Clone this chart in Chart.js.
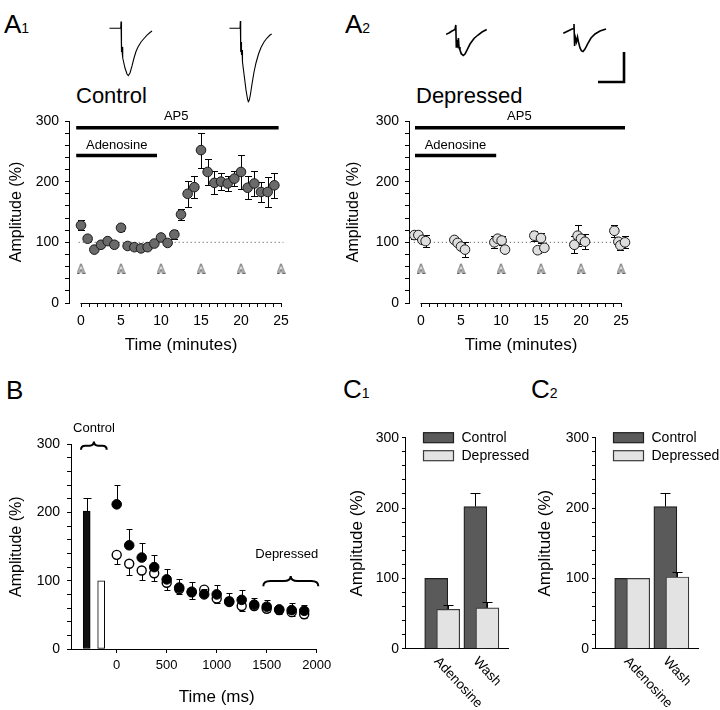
<!DOCTYPE html>
<html><head><meta charset="utf-8">
<script src="https://cdn.jsdelivr.net/npm/chart.js@4.4.0/dist/chart.umd.min.js"></script>
<style>
body{margin:0;background:#fff;width:720px;height:710px;position:relative;overflow:hidden;font-family:"Liberation Sans",Arial,Helvetica,sans-serif;}
canvas{position:absolute;}
.lbl{position:absolute;color:#000;white-space:nowrap;line-height:1;}
</style></head><body>
<div class="lbl" style="left:4px;top:11px;font-size:26px">A<span style="font-size:14px">1</span></div>
<div class="lbl" style="left:345px;top:11px;font-size:26px">A<span style="font-size:14px">2</span></div>
<div class="lbl" style="left:6px;top:377px;font-size:26px">B</div>
<div class="lbl" style="left:343px;top:376px;font-size:26px">C<span style="font-size:14px">1</span></div>
<div class="lbl" style="left:531px;top:376px;font-size:26px">C<span style="font-size:14px">2</span></div>
<div class="lbl" style="left:76px;top:85px;font-size:22px">Control</div>
<div class="lbl" style="left:416px;top:85px;font-size:22px">Depressed</div>

<canvas id="t1" width="50" height="90" style="left:109px;top:16px"></canvas>
<canvas id="t2" width="50" height="90" style="left:229px;top:16px"></canvas>
<canvas id="t3" width="50" height="90" style="left:446px;top:16px"></canvas>
<canvas id="t4" width="50" height="90" style="left:563px;top:16px"></canvas>
<canvas id="sb" width="50" height="90" style="left:590px;top:16px"></canvas>
<canvas id="a1" width="360" height="260" style="left:0px;top:100px"></canvas>
<canvas id="a2" width="360" height="260" style="left:337px;top:100px"></canvas>
<canvas id="b" width="360" height="310" style="left:0px;top:400px"></canvas>
<canvas id="c1" width="200" height="310" style="left:340px;top:400px"></canvas>
<canvas id="c2" width="192" height="310" style="left:528px;top:400px"></canvas>

<script>
// ================= DATA =================
// Panel A1 (Control): time (min), amplitude (%), SEM
const a1Time = [0, 0.83, 1.67, 2.5, 3.33, 4.17, 5, 5.83, 6.67, 7.5, 8.33, 9.17, 10, 10.83, 11.67, 12.5, 13.33, 14.17, 15, 15.83, 16.67, 17.5, 18.33, 19.17, 20, 20.83, 21.67, 22.5, 23.33, 24.17];
const a1Amp  = [128, 106, 88, 96, 102, 96, 124, 94, 92, 90, 92, 98, 108, 99, 113, 146, 180, 191, 252, 216, 198, 200, 197, 205, 216, 190, 197, 183, 183, 194];
const a1Sem  = [8, 3, 3, 3, 3, 3, 6, 3, 3, 3, 3, 3, 4, 3, 7, 9, 21, 18, 29, 22, 19, 14, 12, 12, 28, 19, 20, 17, 25, 21];
// Panel A2 (Depressed)
const a2Time = [-0.83, -0.33, 0.17, 0.58, 4.17, 4.58, 5.0, 5.5, 9.17, 9.58, 10.08, 10.5, 14.17, 14.58, 15.0, 15.42, 19.17, 19.58, 20.0, 20.5, 24.17, 24.67, 24.92, 25.5];
const a2Amp  = [112, 112, 104, 102, 104, 99, 93, 88, 100, 106, 103, 88, 111, 87, 107, 91, 96, 111, 106, 101, 119, 101, 95, 100];
const a2Sem  = [6, 5, 5, 10, 3, 3, 5, 12, 10, 6, 8, 4, 8, 4, 8, 5, 14, 17, 8, 12, 10, 6, 8, 10];
// Stimulus markers (min), axis ticks (min)
const aStimTimes = [0, 5, 10, 15, 20, 25];
const aXTicks = [0,1,2,3,4,5,6,7,8,9,10,11,12,13,14,15,16,17,18,19,20,21,22,23,24,25];
// Drug application periods (min)
const a1Ap5Period = [-0.6, 24.7];
const a1AdenosinePeriod = [-0.6, 9.5];
const a2Ap5Period = [-0.75, 25.5];
const a2AdenosinePeriod = [-0.75, 9.4];

// Panel B: paired-pulse time course (ms)
const bTime = [0, 125, 250, 375, 500, 625, 750, 875, 1000, 1125, 1250, 1375, 1500, 1625, 1750, 1875];
const bControl    = [212, 152, 134, 120, 102, 90, 84, 80, 80, 69, 72, 65, 62, 58, 57, 56];
const bControlSem = [28, 24, 22, 18, 15, 13, 14, 8, 14, 13, 15, 10, 10, 5, 10, 9];
const bDepressed    = [138, 125, 115, 111, 97, 88, 83, 87, 74, 70, 63, 63, 59, 57, 54, 51];
const bDepressedSem = [14, 16, 14, 12, 10, 8, 9, 6, 7, 6, 8, 5, 5, 5, 5, 5];
const bBarTime = [-300, -155];
const bBarAmp  = [202, 100];
const bBarSem  = [20, 0];
const bXTicks = [0, 500, 1000, 1500, 2000];

// Panels C1 / C2
const cCategories = ['Adenosine', 'Wash'];
const c1Control = [100, 202], c1ControlSem = [0, 19];
const c1Depressed = [56, 58], c1DepressedSem = [6, 9];
const c2Control = [100, 202], c2ControlSem = [0, 20];
const c2Depressed = [100, 102], c2DepressedSem = [0, 7];

// Example traces: [ms, pA]
const traceCtrlAdenosine = [[0.19,-0.5],[4.5,-0.5],[4.62,10.8],[4.73,-40],[4.88,-26.7],[5.04,-40],[5.19,-31.7],[5.38,-50],[6.15,-66.7],[6.92,-76.7],[7.42,-79.2],[8.08,-75],[8.85,-63.3],[9.62,-50],[10.38,-39.2],[11.15,-31.7],[12.31,-23.3],[13.46,-17.5],[14.62,-11.7],[15.77,-7.5],[16.54,-5]];
const traceCtrlWash = [[0.19,-0.5],[4.23,-0.5],[4.35,11.7],[4.5,-40],[4.65,-23.3],[4.81,-45],[5,-36.7],[5.19,-56.7],[5.77,-76.7],[6.54,-103.3],[7.12,-118.3],[7.42,-122.8],[7.81,-120],[8.27,-110],[8.85,-93.3],[9.62,-73.3],[10.38,-58.3],[11.35,-43.3],[12.31,-32.5],[13.46,-23.3],[14.62,-16.7],[15.77,-11.7],[16.42,-10]];
const traceDepAdenosine = [[0,-10.5],[1.15,-8.3],[2.31,-5],[3.46,-2.5],[3.77,5],[3.96,-31.7],[4.23,-20],[4.54,-26.7],[4.77,-16.7],[5,-31.7],[5.38,-36.7],[5.96,-43.3],[6.65,-45.8],[7.31,-43.3],[8.08,-36.7],[9.23,-26.7],[10.77,-17.5],[12.31,-11.7],[13.85,-6.7],[15.65,-2.5]];
const traceDepWash = [[0.12,-8.8],[1.54,-5.8],[3.08,-2.5],[4.04,-0.8],[4.23,6.7],[4.46,-30],[4.81,-16.7],[5.19,-23.3],[5.58,-15],[5.96,-23.3],[6.54,-33.3],[7.12,-38.3],[7.69,-39.2],[8.46,-35],[9.42,-26.7],[10.77,-16.7],[12.31,-10],[14.23,-5],[16.54,-1.7]];
const scaleBarMs = 10, scaleBarPA = 50;

// ================= SETUP =================
const FONT = '"Liberation Sans", Arial, Helvetica, sans-serif';
Chart.defaults.font.family = FONT;
Chart.defaults.color = '#000';
Chart.defaults.animation = false;
Chart.defaults.responsive = false;
Chart.defaults.devicePixelRatio = 1;
Chart.defaults.events = [];
Chart.defaults.plugins.legend.display = false;
Chart.defaults.plugins.tooltip.enabled = false;

const errorBarPlugin = {
  id: 'errorBars',
  beforeDatasetDraw(chart, args) {
    const ds = chart.data.datasets[args.index];
    if (!ds.errorBars) return;
    const meta = args.meta;
    const ys = chart.scales[meta.yAxisID];
    const ctx = chart.ctx;
    ctx.save();
    ctx.strokeStyle = ds.errorColor || '#000';
    ctx.lineWidth = ds.errorWidth || 1;
    const cap = ds.errorCap || 3;
    const dir = ds.errorDir || 'both';
    meta.data.forEach((el, i) => {
      const e = ds.errorBars[i];
      if (!e) return;
      const v = ds.data[i].y;
      const x = Math.round(el.x) + 0.5;
      const y0 = ys.getPixelForValue(v);
      const yT = Math.round(ys.getPixelForValue(v + e)) + 0.5;
      const yB = Math.round(ys.getPixelForValue(v - e)) + 0.5;
      ctx.beginPath();
      if (dir !== 'down') { ctx.moveTo(x, y0); ctx.lineTo(x, yT); ctx.moveTo(x - cap, yT); ctx.lineTo(x + cap, yT); }
      if (dir !== 'up') { ctx.moveTo(x, y0); ctx.lineTo(x, yB); ctx.moveTo(x - cap, yB); ctx.lineTo(x + cap, yB); }
      ctx.stroke();
    });
    ctx.restore();
  }
};
Chart.register(errorBarPlugin);

// stimulus marker glyph (open arrowhead)
function makeArrowGlyph() {
  const c = document.createElement('canvas');
  c.width = 9; c.height = 11;
  const g = c.getContext('2d');
  g.strokeStyle = '#3a3a3a'; g.lineWidth = 0.9;
  g.beginPath();
  g.moveTo(0.8, 10.5); g.lineTo(4.5, 0.8); g.lineTo(8.2, 10.5);
  g.moveTo(2.9, 10.5); g.lineTo(4.5, 6.2); g.lineTo(6.1, 10.5);
  g.moveTo(0.8, 10.5); g.lineTo(2.9, 10.5);
  g.moveTo(6.1, 10.5); g.lineTo(8.2, 10.5);
  g.stroke();
  return c;
}
const arrowGlyph = makeArrowGlyph();

function yAxisCommon(width, titleSize, tickLen, tickPad) {
  return {
    type: 'linear', min: 0, max: 300,
    ticks: { stepSize: 20, autoSkip: false, padding: tickPad, font: { size: 14 }, color: '#000',
             callback: v => (v % 100 === 0 ? String(v) : '') },
    grid: { drawOnChartArea: false, drawTicks: true, tickLength: tickLen, color: '#000', lineWidth: 1 },
    border: { display: true, color: '#000', width: 1 },
    title: { display: true, text: 'Amplitude (%)', font: { size: titleSize }, color: '#000', padding: { top: 7, bottom: 0 } },
    afterFit: s => { s.width = width; }
  };
}

// ================= PANEL A =================
function makeA(id, o) {
  const deco = {
    id: 'decoA',
    afterDatasetsDraw(chart) {
      const { ctx, scales: { x, y } } = chart;
      ctx.save();
      ctx.strokeStyle = '#000'; ctx.lineWidth = 1;
      const yy = Math.round(y.getPixelForValue(0)) + 0.5;
      ctx.beginPath();
      ctx.moveTo(x.getPixelForValue(aXTicks[0]) - 0.5, yy);
      ctx.lineTo(x.getPixelForValue(aXTicks[aXTicks.length - 1]) + 0.5, yy);
      ctx.stroke();
      ctx.fillStyle = '#000'; ctx.textAlign = 'center'; ctx.textBaseline = 'middle';
      ctx.font = '13px ' + FONT;
      ctx.fillText('AP5', x.getPixelForValue(o.ap5LabelT), y.getPixelForValue(307));
      ctx.fillText('Adenosine', x.getPixelForValue(o.adenLabelT), y.getPixelForValue(260));
      ctx.font = '17px ' + FONT;
      ctx.fillText('Time (minutes)', x.getPixelForValue(12.5), 245);
      ctx.restore();
    }
  };
  new Chart(document.getElementById(id), {
    type: 'scatter',
    data: { datasets: [
      { data: o.time.map((t, i) => ({ x: t, y: o.amp[i] })), pointRadius: 4.8, pointBackgroundColor: o.fill,
        pointBorderColor: '#1a1a1a', pointBorderWidth: 1, errorBars: o.sem, errorDir: 'both', errorCap: 3.5, clip: false },
      { type: 'scatter', data: aStimTimes.map(t => ({ x: t, y: 57 })), pointStyle: arrowGlyph, pointRadius: 5, clip: false },
      { type: 'line', data: [{ x: o.ap5[0], y: 289 }, { x: o.ap5[1], y: 289 }], showLine: true, borderColor: '#000', borderWidth: 3.5, pointRadius: 0, clip: false },
      { type: 'line', data: [{ x: o.aden[0], y: 243 }, { x: o.aden[1], y: 243 }], showLine: true, borderColor: '#000', borderWidth: 3.5, pointRadius: 0, clip: false },
      { type: 'line', data: [{ x: o.dot[0], y: 100 }, { x: o.dot[1], y: 100 }], showLine: true, borderColor: '#666', borderWidth: 1, borderDash: [1.2, 2.8], pointRadius: 0, clip: false }
    ] },
    options: {
      layout: { padding: { top: 21, right: o.padRight, left: 0, bottom: 0 } },
      scales: {
        x: { type: 'linear', min: -1.5, max: 26,
             afterBuildTicks: s => { s.ticks = aXTicks.map(v => ({ value: v })); },
             ticks: { autoSkip: false, maxRotation: 0, padding: 6, font: { size: 14 }, color: '#000',
                      callback: v => (v % 5 === 0 ? String(v) : '') },
             grid: { drawOnChartArea: false, drawTicks: true, tickLength: 4, color: '#000' },
             border: { display: false },
             afterFit: s => { s.height = 57; } },
        y: yAxisCommon(o.yWidth, 16, 4, 6)
      }
    },
    plugins: [deco]
  });
}
makeA('a1', { time: a1Time, amp: a1Amp, sem: a1Sem, fill: '#6a6a6a', ap5: a1Ap5Period, aden: a1AdenosinePeriod,
              dot: [-0.3, 25.3], ap5LabelT: 11.9, adenLabelT: 4.46, yWidth: 69, padRight: 71 });
makeA('a2', { time: a2Time, amp: a2Amp, sem: a2Sem, fill: '#dedede', ap5: a2Ap5Period, aden: a2AdenosinePeriod,
              dot: [-0.9, 25.9], ap5LabelT: 12.3, adenLabelT: 4.3, yWidth: 72, padRight: 68 });

// ================= TRACES =================
function makeTrace(id, pts, lw) {
  new Chart(document.getElementById(id), {
    type: 'scatter',
    data: { datasets: [{ data: pts.map(p => ({ x: p[0], y: p[1] })), showLine: true, borderColor: '#000',
                         borderWidth: lw, pointRadius: 0, tension: 0, clip: false }] },
    options: { layout: { padding: 0 },
      scales: { x: { type: 'linear', display: false, min: 0, max: 19.23 },
                y: { type: 'linear', display: false, min: -130, max: 20 } } }
  });
}
makeTrace('t1', traceCtrlAdenosine, 1.1);
makeTrace('t2', traceCtrlWash, 1.1);
makeTrace('t3', traceDepAdenosine, 1.6);
makeTrace('t4', traceDepWash, 1.6);
// scale bar
(function () {
  const x0 = 3.08, y0 = -90;
  makeTrace('sb', [[x0, y0], [x0 + scaleBarMs, y0], [x0 + scaleBarMs, y0 + scaleBarPA]], 2.6);
})();

// ================= PANEL B =================
function drawBrace(ctx, x1, x2, xc, yEnd, yTip) {
  const ym = (yEnd + yTip) / 2;
  const q = Math.min(7, (xc - x1) / 3);
  ctx.beginPath();
  ctx.moveTo(x1, yEnd);
  ctx.quadraticCurveTo(x1, ym, x1 + q, ym);
  ctx.lineTo(xc - q, ym);
  ctx.quadraticCurveTo(xc, ym, xc, yTip);
  ctx.quadraticCurveTo(xc, ym, xc + q, ym);
  ctx.lineTo(x2 - q, ym);
  ctx.quadraticCurveTo(x2, ym, x2, yEnd);
  ctx.stroke();
}
const decoB = {
  id: 'decoB',
  afterDatasetsDraw(chart) {
    const { ctx, scales: { x, y } } = chart;
    ctx.save();
    ctx.fillStyle = '#000'; ctx.strokeStyle = '#000'; ctx.lineWidth = 2;
    ctx.textAlign = 'center'; ctx.textBaseline = 'middle';
    ctx.font = '13px ' + FONT;
    ctx.fillText('Control', x.getPixelForValue(-227), y.getPixelForValue(324));
    ctx.fillText('Depressed', x.getPixelForValue(1700), y.getPixelForValue(138));
    drawBrace(ctx, x.getPixelForValue(-357), x.getPixelForValue(-100), x.getPixelForValue(-228), y.getPixelForValue(292), y.getPixelForValue(304));
    drawBrace(ctx, x.getPixelForValue(1466), x.getPixelForValue(2016), x.getPixelForValue(1740), y.getPixelForValue(92), y.getPixelForValue(107));
    ctx.font = '17px ' + FONT;
    ctx.fillText('Time (ms)', x.getPixelForValue(1000), 297);
    ctx.restore();
  }
};
new Chart(document.getElementById('b'), {
  type: 'scatter',
  data: { datasets: [
    { data: bTime.map((t, i) => ({ x: t, y: bControl[i] })), pointRadius: 4.8, pointBackgroundColor: '#000',
      pointBorderColor: '#000', pointBorderWidth: 1, errorBars: bControlSem, errorDir: 'up', errorCap: 3, clip: false },
    { data: bTime.map((t, i) => ({ x: t, y: bDepressed[i] })), pointRadius: 4.5, pointBackgroundColor: '#fff',
      pointBorderColor: '#000', pointBorderWidth: 1.4, errorBars: bDepressedSem, errorDir: 'down', errorCap: 3, clip: false },
    { type: 'bar', data: bBarTime.map((t, i) => ({ x: t, y: bBarAmp[i] })), backgroundColor: ['#111', '#fff'],
      borderColor: '#000', borderWidth: 1, borderSkipped: false, barThickness: 7, errorBars: bBarSem, errorDir: 'up', errorCap: 4 }
  ] },
  options: {
    layout: { padding: { top: 44.3, right: 43.3, left: 0, bottom: 0 } },
    scales: {
      x: { type: 'linear', min: -457, max: 2000, offset: false,
           afterBuildTicks: s => { s.ticks = bXTicks.map(v => ({ value: v })); },
           ticks: { autoSkip: false, maxRotation: 0, padding: 5, font: { size: 13 }, color: '#000',
                    callback: v => String(v) },
           grid: { drawOnChartArea: false, drawTicks: true, tickLength: 4, color: '#000', offset: false },
           border: { display: true, color: '#000' },
           afterFit: s => { s.height = 61; } },
      y: yAxisCommon(71, 16, 4, 7)
    }
  },
  plugins: [decoB]
});

// ================= PANEL C =================
const cLegendOrder = ['Control', 'Depressed'];
function makeC(id, o) {
  const deco = {
    id: 'decoC',
    afterDatasetsDraw(chart) {
      const { ctx, chartArea, scales: { x } } = chart;
      ctx.save();
      // legend
      ctx.font = '14px ' + FONT; ctx.textAlign = 'left'; ctx.textBaseline = 'middle';
      cLegendOrder.forEach((name, k) => {
        const ds = chart.data.datasets.find(d => d.label === name);
        const bx = chartArea.left + 18.5, by = chartArea.top - 5 + k * 18;
        ctx.fillStyle = ds.backgroundColor; ctx.fillRect(bx, by, 30, 10);
        ctx.strokeStyle = ds.borderColor; ctx.lineWidth = 1.2; ctx.strokeRect(bx, by, 30, 10);
        ctx.fillStyle = '#000'; ctx.fillText(ds.label, bx + 38, by + 5.5);
      });
      // rotated category labels
      ctx.font = '13.5px ' + FONT;
      cCategories.forEach((c, i) => {
        ctx.save();
        ctx.translate(x.getPixelForValue(i) - 6, chartArea.bottom + 10.5);
        ctx.rotate(47 * Math.PI / 180);
        ctx.fillText(c, 0, 0);
        ctx.restore();
      });
      ctx.restore();
    }
  };
  // Chart.js groups the two bar series side by side (first dataset left, second right,
  // each shifted by half the bar thickness); this offset pulls them back together so
  // the Depressed bar overlaps the Control bar as in the original figure.
  const off = 0.447;
  new Chart(document.getElementById(id), {
    type: 'bar',
    data: { datasets: [
      { label: 'Depressed', data: cCategories.map((c, i) => ({ x: i + off, y: o.dep[i] })),
        backgroundColor: '#e3e3e3', borderColor: '#3a3a3a', borderWidth: 1.2, barThickness: 23,
        errorBars: o.depSem, errorDir: 'up', errorCap: 5 },
      { label: 'Control', data: cCategories.map((c, i) => ({ x: i - off, y: o.ctrl[i] })),
        backgroundColor: '#5a5a5a', borderColor: '#1e1e1e', borderWidth: 1.2, barThickness: 23,
        errorBars: o.ctrlSem, errorDir: 'up', errorCap: 5 }
    ] },
    options: {
      layout: { padding: { top: 37.7, right: o.padRight, left: 0, bottom: 0 } },
      scales: {
        x: { type: 'linear', min: -0.95, max: 1.68, offset: false,
             afterBuildTicks: s => { s.ticks = cCategories.map((c, i) => ({ value: i })); },
             ticks: { display: false }, grid: { display: false, offset: false },
             border: { display: true, color: '#000' },
             afterFit: s => { s.height = 61.3; } },
        y: yAxisCommon(o.yWidth, 17, 3, 3)
      }
    },
    plugins: [deco]
  });
}
makeC('c1', { ctrl: c1Control, ctrlSem: c1ControlSem, dep: c1Depressed, depSem: c1DepressedSem, yWidth: 65, padRight: 32 });
makeC('c2', { ctrl: c2Control, ctrlSem: c2ControlSem, dep: c2Depressed, depSem: c2DepressedSem, yWidth: 67, padRight: 22 });
</script>
</body></html>
